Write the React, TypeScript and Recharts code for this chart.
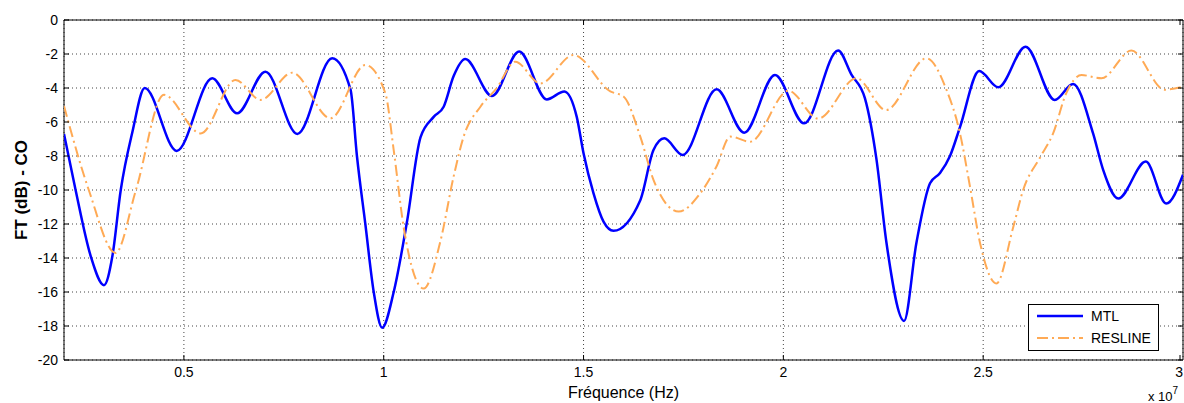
import React from 'react';
import { LineChart, Line, XAxis, YAxis, CartesianGrid, ReferenceArea } from 'recharts';

// Frequencies in units of 1e7 Hz
const mtlFreq = [0.2, 0.229, 0.267, 0.3, 0.321, 0.342, 0.371, 0.402, 0.482, 0.571, 0.633, 0.704, 0.784, 0.871, 0.917, 0.933, 0.954, 0.975, 0.996, 1.025, 1.058, 1.092, 1.125, 1.15, 1.175, 1.204, 1.271, 1.339, 1.408, 1.452, 1.483, 1.5, 1.525, 1.55, 1.575, 1.642, 1.675, 1.702, 1.748, 1.833, 1.902, 1.979, 2.052, 2.137, 2.17, 2.204, 2.233, 2.258, 2.302, 2.333, 2.367, 2.392, 2.417, 2.442, 2.49, 2.538, 2.606, 2.679, 2.725, 2.775, 2.8, 2.838, 2.907, 2.958, 3.0];
const mtlVal = [-6.7, -10, -13.9, -15.6, -13.9, -10, -6.6, -4.0, -7.7, -3.43, -5.49, -3.04, -6.7, -2.25, -4.1, -8.0, -12.0, -16.0, -18.1, -16.0, -11.9, -6.9, -5.7, -5.1, -3.3, -2.3, -4.47, -1.86, -4.67, -4.2, -5.7, -7.84, -10.2, -11.86, -12.4, -10.6, -7.65, -6.96, -7.94, -4.08, -6.63, -3.24, -6.08, -1.8, -3.2, -4.6, -8.2, -13.1, -17.7, -13.1, -9.6, -9.0, -8.0, -6.3, -3.0, -3.96, -1.57, -4.7, -3.76, -6.67, -8.8, -10.5, -8.33, -10.8, -9.1];

const resFreq = [0.2, 0.262, 0.329, 0.38, 0.45, 0.542, 0.629, 0.692, 0.771, 0.867, 0.954, 1.004, 1.025, 1.05, 1.1, 1.142, 1.175, 1.2, 1.242, 1.283, 1.329, 1.392, 1.475, 1.567, 1.6, 1.642, 1.675, 1.738, 1.792, 1.833, 1.867, 1.917, 2.013, 2.087, 2.183, 2.257, 2.358, 2.408, 2.442, 2.467, 2.492, 2.533, 2.575, 2.6, 2.642, 2.675, 2.708, 2.746, 2.796, 2.871, 2.954, 3.0];
const resVal = [-5.06, -10, -13.7, -10, -4.4, -6.67, -3.53, -4.7, -3.1, -5.78, -2.65, -4.3, -7.65, -12.2, -15.8, -13.0, -9.2, -6.86, -5.1, -4.0, -2.45, -3.73, -2.06, -4.2, -4.5, -6.86, -9.4, -11.27, -10.2, -8.6, -6.86, -7.16, -4.16, -5.8, -3.43, -5.3, -2.25, -4.1, -6.67, -9.8, -13.1, -15.5, -12.2, -10.0, -8.1, -6.67, -4.3, -3.24, -3.43, -1.8, -4.1, -3.92];

const xTicks = [0.5, 1, 1.5, 2, 2.5, 3];
const yTicks = [0, -2, -4, -6, -8, -10, -12, -14, -16, -18, -20];

const seriesNames = ['MTL', 'RESLINE'];

const W = 1184;
const H = 403;
const PL = 64;
const PR = 1183;
const PT = 20;
const PB = 360;
const FONT = '"Liberation Sans", Arial, sans-serif';

const mtlData = mtlFreq.map((f, i) => ({ f, v: mtlVal[i] }));
const resData = resFreq.map((f, i) => ({ f, v: resVal[i] }));

const YTick = (props: any) => {
  const { y, payload } = props;
  return (
    <g>
      <line x1={PL} x2={PL + 5} y1={y} y2={y} stroke="#000" />
      <line x1={PR} x2={PR - 5} y1={y} y2={y} stroke="#000" />
      <text x={PL - 6} y={y} textAnchor="end" dominantBaseline="central" fontSize={14} fontFamily={FONT} fill="#000">
        {payload.value}
      </text>
    </g>
  );
};

const XTick = (props: any) => {
  const { x, payload } = props;
  const isLast = x > PR - 10;
  return (
    <g>
      <line x1={x} x2={x} y1={PB} y2={PB - 5} stroke="#000" />
      <line x1={x} x2={x} y1={PT} y2={PT + 5} stroke="#000" />
      <text
        x={isLast ? W - 1 : x}
        y={372}
        textAnchor={isLast ? 'end' : 'middle'}
        dominantBaseline="central"
        fontSize={14}
        fontFamily={FONT}
        fill="#000"
      >
        {String(payload.value)}
      </text>
    </g>
  );
};

const XLabel = () => (
  <g>
    <text x={(PL + PR) / 2} y={398} textAnchor="middle" fontSize={16} fontFamily={FONT} fill="#000">
      Fréquence (Hz)
    </text>
    <text x={1148} y={401} fontSize={13} fontFamily={FONT} fill="#000">
      x 10<tspan dy={-7} fontSize={10}>7</tspan>
    </text>
  </g>
);

const YLabel = () => {
  const cx = 21;
  const cy = (PT + PB) / 2;
  return (
    <text
      x={cx}
      y={cy}
      transform={`rotate(-90, ${cx}, ${cy})`}
      textAnchor="middle"
      dominantBaseline="central"
      fontSize={17}
      fontWeight="bold"
      fontFamily={FONT}
      fill="#000"
    >
      FT (dB) - CO
    </text>
  );
};

export default function App() {
  return (
    <div style={{ position: 'absolute', left: 0, top: 0, width: W, height: H, background: '#fff' }}>
      <LineChart width={W} height={H} margin={{ top: PT, right: W - PR, bottom: 0, left: 0 }}>
        <CartesianGrid stroke="#444" strokeDasharray="1 3" />
        <XAxis
          type="number"
          dataKey="f"
          domain={[0.2, 3]}
          ticks={xTicks}
          allowDataOverflow
          height={H - PB}
          axisLine={false}
          tickLine={false}
          tick={<XTick />}
          label={<XLabel />}
        />
        <YAxis
          type="number"
          domain={[-20, 0]}
          ticks={yTicks}
          allowDataOverflow
          width={PL}
          axisLine={false}
          tickLine={false}
          tick={<YTick />}
          label={<YLabel />}
        />
        <Line
          data={mtlData}
          dataKey="v"
          name={seriesNames[0]}
          type="monotone"
          stroke="#0000FF"
          strokeWidth={2.5}
          dot={false}
          isAnimationActive={false}
        />
        <Line
          data={resData}
          dataKey="v"
          name={seriesNames[1]}
          type="monotone"
          stroke="#FFAA55"
          strokeWidth={2}
          strokeDasharray="11 4 2 4"
          dot={false}
          isAnimationActive={false}
        />
        <ReferenceArea x1={0.2} x2={3} y1={-20} y2={0} fill="none" stroke="#000" strokeWidth={1} fillOpacity={0} />
      </LineChart>
      <div
        style={{
          position: 'absolute',
          left: 1028,
          top: 304,
          width: 131,
          height: 47,
          border: '1px solid #000',
          background: '#fff',
          fontFamily: FONT,
          fontSize: 14,
          boxSizing: 'border-box',
        }}
      >
        <div style={{ position: 'absolute', left: 8, top: 2, display: 'flex', alignItems: 'center', height: 18 }}>
          <svg width={46} height={6}>
            <line x1={0} x2={46} y1={3} y2={3} stroke="#0000FF" strokeWidth={2.5} />
          </svg>
          <span style={{ marginLeft: 8 }}>{seriesNames[0]}</span>
        </div>
        <div style={{ position: 'absolute', left: 8, top: 24, display: 'flex', alignItems: 'center', height: 18 }}>
          <svg width={46} height={6}>
            <line x1={0} x2={46} y1={3} y2={3} stroke="#FFAA55" strokeWidth={2} strokeDasharray="11 4 2 4" />
          </svg>
          <span style={{ marginLeft: 8 }}>{seriesNames[1]}</span>
        </div>
      </div>
    </div>
  );
}
